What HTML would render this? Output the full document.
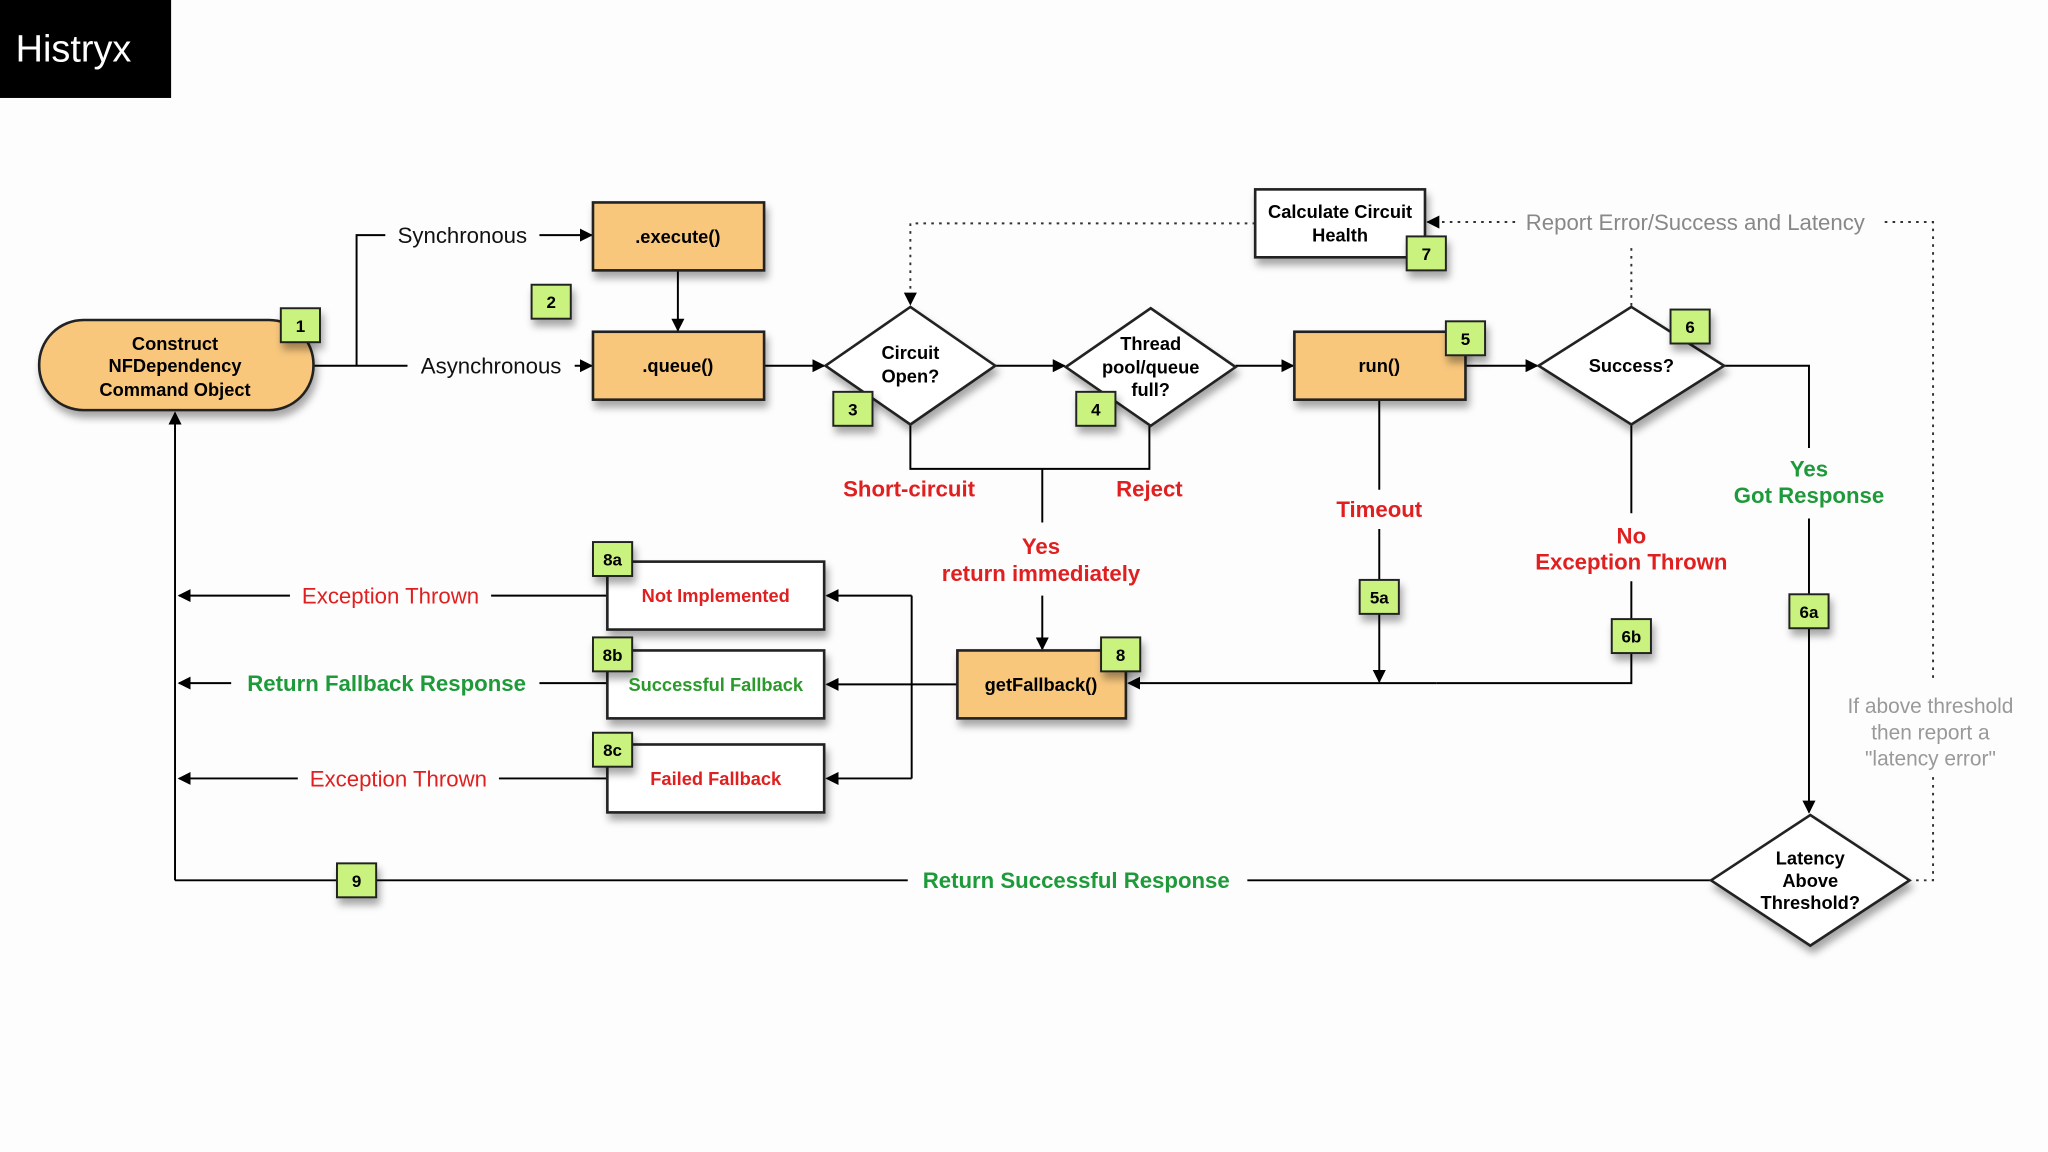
<!DOCTYPE html>
<html><head><meta charset="utf-8"><style>
html,body{margin:0;padding:0;background:#fdfdfd;}
svg{display:block;}
text{font-family:"Liberation Sans",sans-serif;}
</style></head><body>
<svg width="2048" height="1152" viewBox="0 0 1568 882" xmlns="http://www.w3.org/2000/svg">
<defs>
<filter id="sh" x="-20%" y="-20%" width="150%" height="160%"><feDropShadow dx="2" dy="5" stdDeviation="3" flood-color="#000" flood-opacity="0.35"/></filter>
<marker id="ar" markerWidth="10" markerHeight="10" refX="9" refY="5" orient="auto" markerUnits="userSpaceOnUse"><path d="M0,0 L10,5 L0,10 z" fill="#000"/></marker>
</defs>
<rect width="1568" height="882" fill="#fdfdfd"/>
<rect x="0" y="0" width="131" height="75" fill="#000"/>
<text x="12" y="47" fill="#fff" font-size="29">Histryx</text>

<g stroke="#000" stroke-width="1.5" fill="none">
<!-- left branch -->
<path d="M240,280 H312 M273,280 V180 H295"/>
<path d="M413,180 H453" marker-end="url(#ar)"/>
<path d="M440,280 H453" marker-end="url(#ar)"/>
<path d="M519,207 V253" marker-end="url(#ar)"/>
<path d="M585,280 H631" marker-end="url(#ar)"/>
<path d="M762,280 H815" marker-end="url(#ar)"/>
<path d="M946,280 H990" marker-end="url(#ar)"/>
<path d="M1122,280 H1177" marker-end="url(#ar)"/>
<path d="M697,325 V359 H880 V326 M798,359 V400"/>
<path d="M798,456 V497" marker-end="url(#ar)"/>
<path d="M1056,306 V375 M1056,405 V445"/>
<path d="M1056,470 V522" marker-end="url(#ar)"/>
<path d="M1249,325 V393 M1249,445 V475 M1249,500 V523 H1100"/>
<path d="M1100,523 H864" marker-end="url(#ar)"/>
<path d="M1320,280 H1385 V343 M1385,397 V455"/>
<path d="M1385,481 V622" marker-end="url(#ar)"/>
<path d="M1310,674 H955 M695,674 H134"/>
<path d="M134,674 V316" marker-end="url(#ar)"/>
<path d="M733,524 H698 M698,456 V596"/>
<path d="M698,456 H633" marker-end="url(#ar)"/>
<path d="M698,524 H633" marker-end="url(#ar)"/>
<path d="M698,596 H633" marker-end="url(#ar)"/>
<path d="M465,456 H376 M222,456 H137" marker-end="url(#ar)"/>
<path d="M465,523 H413 M177,523 H137" marker-end="url(#ar)"/>
<path d="M465,596 H382 M228,596 H137" marker-end="url(#ar)"/>
</g>
<!-- dotted -->
<g stroke="#333" stroke-width="1.5" fill="none" stroke-dasharray="2,4">
<path d="M961,171 H697 V232"/>
<path d="M1160,170 H1093"/>
<path d="M1443,170 H1480 V520 M1480,595 V674 H1463"/>
<path d="M1249,190 V235"/>
</g>
<path d="M697,234 l-5,-10 h10 z" fill="#000"/>
<path d="M1092,170 l10,-5 v10 z" fill="#000"/>

<!-- nodes -->
<g stroke="#222" stroke-width="2" filter="url(#sh)">
<rect x="30" y="245" width="210" height="69" rx="34" fill="#f8c77b"/>
<rect x="454" y="155" width="131" height="52" fill="#f8c77b"/>
<rect x="454" y="254" width="131" height="52" fill="#f8c77b"/>
<rect x="991" y="254" width="131" height="52" fill="#f8c77b"/>
<rect x="733" y="498" width="129" height="52" fill="#f8c77b"/>
<rect x="961" y="145" width="130" height="52" fill="#fff"/>
<rect x="465" y="430" width="166" height="52" fill="#fff"/>
<rect x="465" y="498" width="166" height="52" fill="#fff"/>
<rect x="465" y="570" width="166" height="52" fill="#fff"/>
<path d="M697,235 L762,280 L697,325 L632,280 Z" fill="#fff"/>
<path d="M881,236 L946,281 L881,326 L816,281 Z" fill="#fff"/>
<path d="M1249,235 L1320,280 L1249,325 L1178,280 Z" fill="#fff"/>
<path d="M1386,624 L1462,674 L1386,724 L1310,674 Z" fill="#fff"/>
</g>
<!-- badges -->
<g stroke="#222" stroke-width="1.5" fill="#c9f27e" filter="url(#sh)">
<rect x="215" y="236" width="30" height="26"/>
<rect x="407" y="218" width="30" height="26"/>
<rect x="638" y="300" width="30" height="26"/>
<rect x="824" y="300" width="30" height="26"/>
<rect x="1107" y="246" width="30" height="26"/>
<rect x="1279" y="237" width="30" height="26"/>
<rect x="1077" y="181" width="30" height="26"/>
<rect x="1041" y="444" width="30" height="26"/>
<rect x="1234" y="474" width="30" height="26"/>
<rect x="1370" y="455" width="30" height="26"/>
<rect x="843" y="488" width="30" height="26"/>
<rect x="454" y="415" width="30" height="26"/>
<rect x="454" y="488" width="30" height="26"/>
<rect x="454" y="561" width="30" height="26"/>
<rect x="258" y="661" width="30" height="26"/>
</g>
<g font-size="13" font-weight="bold" text-anchor="middle" fill="#000">
<text x="230" y="254">1</text><text x="422" y="236">2</text><text x="653" y="318">3</text>
<text x="839" y="318">4</text><text x="1122" y="264">5</text><text x="1294" y="255">6</text>
<text x="1092" y="199">7</text><text x="1056" y="462">5a</text><text x="1249" y="492">6b</text>
<text x="1385" y="473">6a</text><text x="858" y="506">8</text><text x="469" y="433">8a</text>
<text x="469" y="506">8b</text><text x="469" y="579">8c</text><text x="273" y="679">9</text>
</g>
<!-- node texts -->
<g font-size="14" font-weight="bold" text-anchor="middle" fill="#000">
<text x="134" y="268">Construct</text><text x="134" y="285">NFDependency</text><text x="134" y="303">Command Object</text>
<text x="519" y="186">.execute()</text><text x="519" y="285">.queue()</text>
<text x="697" y="275">Circuit</text><text x="697" y="293">Open?</text>
<text x="881" y="268">Thread</text><text x="881" y="286">pool/queue</text><text x="881" y="303">full?</text>
<text x="1056" y="285">run()</text><text x="1249" y="285">Success?</text>
<text x="1026" y="167">Calculate Circuit</text><text x="1026" y="185">Health</text>
<text x="797" y="529">getFallback()</text>
<text x="1386" y="662">Latency</text><text x="1386" y="679">Above</text><text x="1386" y="696">Threshold?</text>
<text x="548" y="461" fill="#e02020">Not Implemented</text>
<text x="548" y="529" fill="#2a9a2a">Successful Fallback</text>
<text x="548" y="601" fill="#e02020">Failed Fallback</text>
</g>
<g font-size="17" text-anchor="middle">
<text x="354" y="186" fill="#111">Synchronous</text>
<text x="376" y="286" fill="#111">Asynchronous</text>
<text x="1298" y="176" fill="#888">Report Error/Success and Latency</text>
<text x="299" y="462" fill="#e02020">Exception Thrown</text>
<text x="305" y="602" fill="#e02020">Exception Thrown</text>
<g fill="#999" font-size="16"><text x="1478" y="546">If above threshold</text><text x="1478" y="566">then report a</text><text x="1478" y="586">"latency error"</text></g>
</g>
<g font-size="17" font-weight="bold" text-anchor="middle">
<text x="696" y="380" fill="#e02020">Short-circuit</text>
<text x="880" y="380" fill="#e02020">Reject</text>
<text x="797" y="424" fill="#e02020">Yes</text>
<text x="797" y="445" fill="#e02020">return immediately</text>
<text x="1056" y="396" fill="#e02020">Timeout</text>
<text x="1249" y="416" fill="#e02020">No</text>
<text x="1249" y="436" fill="#e02020">Exception Thrown</text>
<text x="1385" y="365" fill="#1f9a3a">Yes</text>
<text x="1385" y="385" fill="#1f9a3a">Got Response</text>
<text x="296" y="529" fill="#1f9a3a">Return Fallback Response</text>
<text x="824" y="680" fill="#1f9a3a">Return Successful Response</text>
</g>
</svg>
</body></html>
